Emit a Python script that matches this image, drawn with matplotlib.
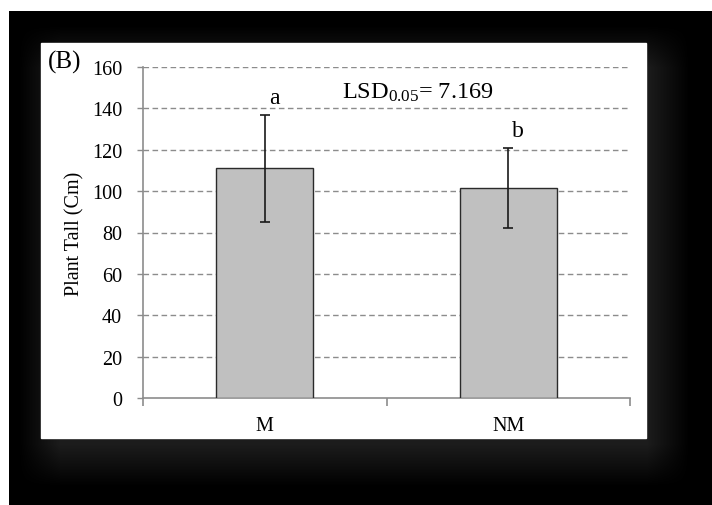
import numpy as np
import matplotlib
matplotlib.use("Agg")
import matplotlib.pyplot as plt

plt.rcParams['font.family'] = ['Liberation Serif', 'DejaVu Serif']
plt.rcParams['mathtext.fontset'] = 'custom'
plt.rcParams['mathtext.rm'] = 'Liberation Serif'
plt.rcParams['mathtext.it'] = 'Liberation Serif:italic'

# treatment means with their error bars
groups = ['M', 'NM']
plant_tall = [111, 101.5]
plant_err = [26, 19.5]
letters = ['a', 'b']
lsd_text = r'LSD$_{\mathrm{0.05}}$= 7.169'
y_ticks = [0, 20, 40, 60, 80, 100, 120, 140, 160]

W, H = 712, 506
fig = plt.figure(figsize=(W / 100, H / 100), dpi=100)

# backdrop: black frame with a soft shadow under the white panel
bg = np.ones((H, W, 3))
yy, xx = np.mgrid[0:H, 0:W]
frame = (xx >= 9) & (yy >= 12)
shadow = ((xx >= 40) & (xx <= 668) & (yy >= 48) & (yy <= 466)).astype(float)
k = 21
for axis in (0, 1):
    c = np.cumsum(np.pad(shadow, [(k, k) if a == axis else (0, 0) for a in (0, 1)], mode='edge'), axis=axis)
    if axis == 0:
        shadow = (c[2 * k:, :] - c[:-2 * k, :]) / (2 * k)
    else:
        shadow = (c[:, 2 * k:] - c[:, :-2 * k]) / (2 * k)
shade = 0.11 * shadow[:H, :W]
for ch in range(3):
    bg[..., ch] = np.where(frame, shade, 1.0)
bax = fig.add_axes([0, 0, 1, 1])
bax.imshow(bg, extent=(0, W, H, 0), aspect='auto', interpolation='bilinear')
bax.add_patch(plt.Rectangle((41, 44), 605, 395, color='white', zorder=2))
bax.set_xlim(0, W)
bax.set_ylim(H, 0)
bax.axis('off')

ax = fig.add_axes([143 / W, 1 - 399 / H, 487 / W, 331 / H])
ax.patch.set_alpha(0)
x = np.arange(len(groups))
ax.bar(x, plant_tall, width=0.40, color='#c0c0c0', edgecolor='#2a2a2a',
       linewidth=1.0, zorder=3)
ax.errorbar(x, plant_tall, yerr=plant_err, fmt='none', ecolor='#1a1a1a',
            elinewidth=1.2, capsize=3.5, capthick=1.2, zorder=4)

for xi, h, e, lab in zip(x, plant_tall, plant_err, letters):
    ax.text(xi + 0.04, h + e + 3, lab, ha='center', va='bottom', fontsize=17)

ax.text(0.63, 148, lsd_text, ha='center', va='center', fontsize=17.5)

ax.set_xlim(-0.5, 1.5)
ax.set_ylim(0, 160)
ax.set_yticks(y_ticks)
ax.set_yticklabels([str(v) for v in y_ticks], fontsize=14.5)
for v in y_ticks[1:]:
    ax.axhline(v, color='#8c8c8c', linestyle=(0, (4, 2.5)), linewidth=1.0, zorder=1)

ax.set_xticks([-0.5, 0.5, 1.5])
ax.set_xticklabels([])
ax.set_xticks(x, minor=True)
ax.set_xticklabels(groups, minor=True, fontsize=14.5)
ax.tick_params(axis='x', which='minor', length=0, pad=13)
ax.tick_params(axis='x', which='major', length=6, color='#8c8c8c', width=1.2)
ax.tick_params(axis='y', length=4, color='#8c8c8c', width=1.0, pad=11)

for s in ('top', 'right'):
    ax.spines[s].set_visible(False)
for s in ('left', 'bottom'):
    ax.spines[s].set_color('#8c8c8c')
    ax.spines[s].set_linewidth(1.2)

ax.set_ylabel('Plant Tall (Cm)', fontsize=14.5)
ax.yaxis.set_label_coords(-0.12, 0.5)
fig.text(48 / W, 1 - 62 / H, '(B)', ha='left', va='center', fontsize=18)

fig.savefig('out.png', dpi=100)
